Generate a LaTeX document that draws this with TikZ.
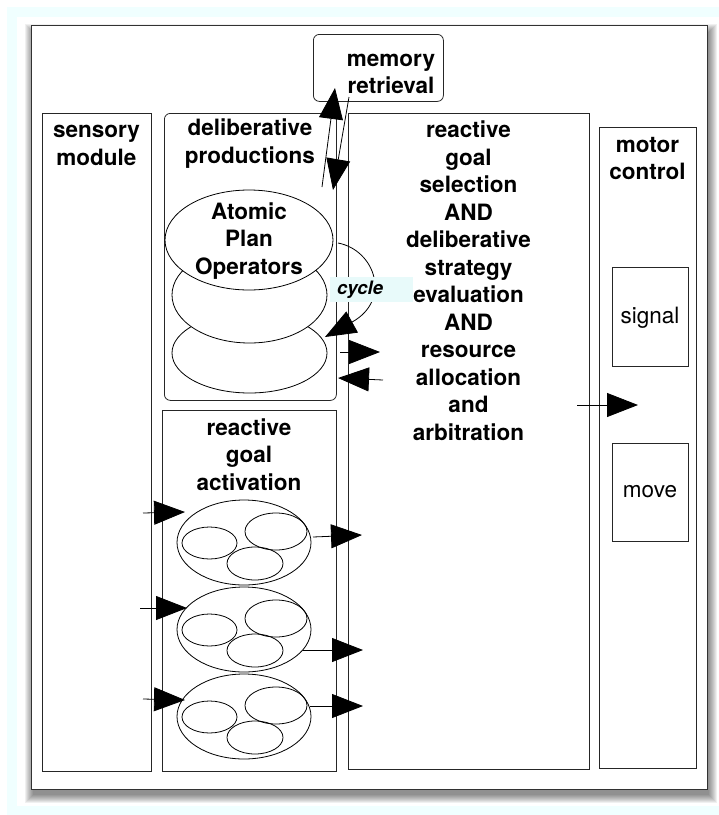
\documentclass[tikz,border=0pt]{standalone}
\usepackage{fontspec}
\setmainfont{TeX Gyre Heros}
\usetikzlibrary{arrows.meta,shapes.geometric}
\definecolor{bandcyan}{RGB}{240,255,255}
\definecolor{tagcyan}{RGB}{232,250,250}
\definecolor{framegray}{RGB}{50,50,50}

\begin{document}
\begin{tikzpicture}[x=1pt,y=-1pt,
  box/.style={draw=black!85, line width=0.8pt, inner sep=0pt, anchor=north west},
  rbox/.style={box, rounded corners=6pt},
  lbl/.style={font=\fontsize{22.5}{27.5}\selectfont\bfseries, align=center, inner sep=0pt},
  plainlbl/.style={font=\fontsize{22.5}{27.5}\selectfont, inner sep=0pt},
  oval/.style={draw=black, line width=0.8pt, ellipse, inner sep=0pt},
  conn/.style={draw=black, line width=0.8pt, -{Triangle[length=31pt,width=24pt]}},
]
\useasboundingbox (0,0) rectangle (719,815);
% page background with the light cyan band
\fill[white] (0,0) rectangle (719,815);
\fill[bandcyan] (7,7) rectangle (719,815);
\fill[white] (17,17) rectangle (719,806);

% soft drop shadow of the outer frame
\foreach \r in {0,...,8}
  \fill[black, opacity=0.06] (31-\r+2, 25-\r+7) rectangle (707+\r+2, 789+\r+6);
\node[box, draw=framegray, line width=1.4pt, fill=white,
      minimum width=676, minimum height=764] (frame) at (31,25) {};

% module boxes
\node[box, minimum width=109, minimum height=658] (sensory) at (42,113) {};
\node[rbox, minimum width=172, minimum height=287] (delib) at (164,113) {};
\node[box, minimum width=174, minimum height=361] (activation) at (162,410) {};
\node[box, minimum width=241, minimum height=656] (selection) at (348,113) {};
\node[box, minimum width=97, minimum height=641] (motor) at (599,127) {};
\node[box, minimum width=76, minimum height=99] (signal) at (612,267) {};
\node[box, minimum width=76, minimum height=98] (move) at (612,443) {};
\node[rbox, fill=white, minimum width=130, minimum height=67] (memory) at (313,34) {};

% stacked plan operator ellipses
\node[oval, fill=white, minimum width=155, minimum height=80] (op3) at (249.5,353) {};
\node[oval, fill=white, minimum width=155, minimum height=96] (op2) at (249.5,295) {};
\node[oval, fill=white, minimum width=168, minimum height=100] (op1) at (249,240) {};

% goal activation clusters
\foreach \k/\cy in {1/542.5,2/629.5,3/716.5}{
  \node[oval, minimum width=134, minimum height=85] (g\k) at (244,\cy) {};
  \node[oval, minimum width=55, minimum height=32] (g\k l) at (209.5,\cy+0.5) {};
  \node[oval, minimum width=62, minimum height=37] (g\k r) at (276,\cy-11) {};
  \node[oval, minimum width=56, minimum height=33] (g\k b) at (255,\cy+21) {};
}

% connector end points
\coordinate (in1s) at (143,513);  \coordinate (in1e) at (185,512);
\coordinate (in2s) at (140,608);  \coordinate (in2e) at (187,608);
\coordinate (in3s) at (143,699);  \coordinate (in3e) at (185,700);
\coordinate (out1s) at (313,537); \coordinate (out1e) at (362,535);
\coordinate (out2s) at (303,650); \coordinate (out2e) at (363,650);
\coordinate (out3s) at (310,706); \coordinate (out3e) at (363,706);
\coordinate (dsS) at (340,352);   \coordinate (dsE) at (380,352);
\coordinate (sdS) at (383,380);   \coordinate (sdE) at (338,378);
\coordinate (smS) at (577,405);   \coordinate (smE) at (638,405);
\coordinate (upS) at (322,187);   \coordinate (upE) at (335,88);
\coordinate (dnS) at (349,97);    \coordinate (dnE) at (333,190);
\coordinate (cyS) at (338,243);   \coordinate (cyE) at (325,337);

% connectors
\draw[conn] (in1s) -- (in1e);
\draw[conn] (in2s) -- (in2e);
\draw[conn] (in3s) -- (in3e);
\draw[conn] (out1s) -- (out1e);
\draw[conn] (out2s) -- (out2e);
\draw[conn] (out3s) -- (out3e);
\draw[conn] (dsS) -- (dsE);
\draw[conn] (sdS) -- (sdE);
\draw[conn] (smS) -- (smE);
\draw[conn] (upS) -- (upE);
\draw[conn] (dnS) -- (dnE);
\draw[conn] (cyS) .. controls (375,250) and (392,300) .. (cyE);

% cycle tag
\node[fill=tagcyan, anchor=north west, minimum height=25, inner ysep=0pt,
      inner xsep=7pt, text width=69pt, align=left,
      font=\fontsize{18.5}{22}\selectfont\bfseries\itshape] (cycle) at (330,277) {cycle};

% labels
\node[lbl] (memoryT) at (391,74) {memory\\retrieval};
\node[lbl] (sensoryT) at (96.5,145.5) {sensory\\module};
\node[lbl] (delibT) at (250,143.5) {deliberative\\productions};
\node[lbl] (selectionT) at (468.5,280.5) {reactive\\goal\\selection\\AND\\deliberative\\strategy\\evaluation\\AND\\resource\\allocation\\and\\arbitration};
\node[lbl] (motorT) at (647.5,158.5) {motor\\control};
\node[plainlbl] (signalT) at (650,318) {signal};
\node[plainlbl] (moveT) at (650,492) {move};
\node[lbl] (opT) at (249,241) {Atomic\\Plan\\Operators};
\node[lbl] (activationT) at (249,454.5) {reactive\\goal\\activation};
\end{tikzpicture}
\end{document}
